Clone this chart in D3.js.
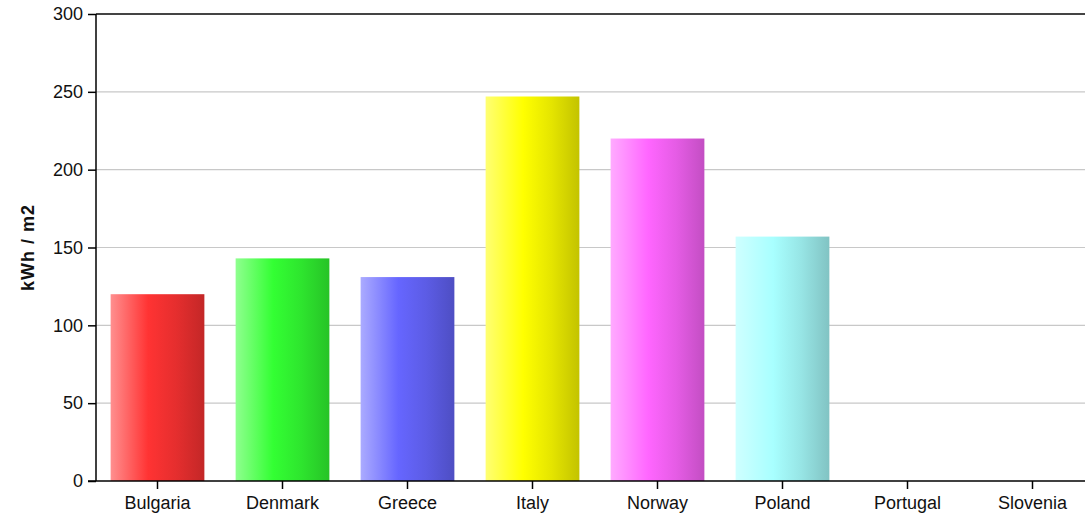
<!DOCTYPE html>
<html><head><meta charset="utf-8">
<script src="https://cdn.jsdelivr.net/npm/d3@7"></script>
<style>body{margin:0;background:#fff}svg{display:block}</style>
</head><body>
<svg id="chart" width="1091" height="516"></svg>
<script>
const categories = ["Bulgaria","Denmark","Greece","Italy","Norway","Poland","Portugal","Slovenia"];
const values = [120, 143, 131, 247, 220, 157, 0, 0];
const baseColors = ["#ff3333","#33ff33","#6666ff","#ffff00","#ff66ff","#a8ffff","#999999","#999999"];
const yTicks = [0,50,100,150,200,250,300];
const yLabel = "kWh / m2";

const svg = d3.select("#chart");
const mLeft = 96, mTop = 14, mBottom = 481, rightEnd = 1085;
const x = d3.scaleBand().domain(categories).range([mLeft - 1, mLeft + 999]).paddingInner(0.25).paddingOuter(0.125);
const y = d3.scaleLinear().domain([0, 300]).range([mBottom, mTop]);
const font = "Liberation Sans, Arial, sans-serif";

const defs = svg.append("defs");
baseColors.forEach((c, i) => {
  const g = defs.append("linearGradient").attr("id", "g" + i).attr("x1", "0").attr("x2", "1").attr("y1", "0").attr("y2", "0");
  const base = d3.color(c);
  g.append("stop").attr("offset", "0%").attr("stop-color", d3.interpolateRgb(c, "#fff")(0.45));
  g.append("stop").attr("offset", "40%").attr("stop-color", c);
  g.append("stop").attr("offset", "70%").attr("stop-color", base.darker(0.3));
  g.append("stop").attr("offset", "100%").attr("stop-color", base.darker(0.75));
});

// grid
svg.append("g").selectAll("line").data(yTicks.filter(t => t > 0 && t < 300)).join("line")
  .attr("x1", mLeft).attr("x2", rightEnd).attr("y1", d => y(d)).attr("y2", d => y(d))
  .attr("stroke", "#c8c8c8").attr("stroke-width", 1.2);

// top border
svg.append("line").attr("x1", mLeft).attr("x2", rightEnd).attr("y1", y(300)).attr("y2", y(300))
  .attr("stroke", "#444").attr("stroke-width", 2);

// bars
svg.append("g").selectAll("rect").data(categories).join("rect")
  .attr("x", d => x(d)).attr("width", x.bandwidth())
  .attr("y", (d, i) => y(values[i])).attr("height", (d, i) => y(0) - y(values[i]))
  .attr("fill", (d, i) => `url(#g${i})`);

// y axis
const yAxis = svg.append("g").attr("transform", `translate(${mLeft},0)`)
  .call(d3.axisLeft(y).tickValues(yTicks).tickSize(8).tickPadding(5));
yAxis.select(".domain").attr("stroke", "#000").attr("stroke-width", 1.5).attr("d", `M0,${mTop}V${mBottom}`);
yAxis.selectAll(".tick line").attr("stroke", "#000").attr("stroke-width", 1.5);
yAxis.selectAll("text").attr("font-family", font).attr("font-size", 18).attr("fill", "#111");

// x axis
const xAxis = svg.append("g").attr("transform", `translate(0,${mBottom})`)
  .call(d3.axisBottom(x).tickSize(8).tickPadding(7));
xAxis.select(".domain").attr("stroke", "#000").attr("stroke-width", 1.5).attr("d", `M${mLeft - 8},0H${rightEnd}`);
xAxis.selectAll(".tick line").attr("stroke", "#000").attr("stroke-width", 1.5);
xAxis.selectAll("text").attr("font-family", font).attr("font-size", 18).attr("fill", "#111");

svg.append("text").attr("transform", `translate(34,${(mTop + mBottom) / 2}) rotate(-90)`)
  .attr("text-anchor", "middle").attr("font-family", font).attr("letter-spacing", 1)
  .attr("font-size", 18).attr("font-weight", "bold").attr("fill", "#111").text(yLabel);
</script>
</body></html>
